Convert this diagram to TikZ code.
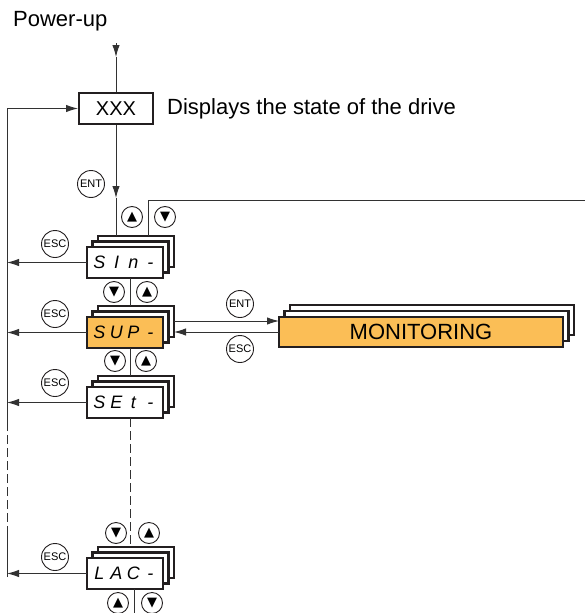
\documentclass[tikz,border=0pt]{standalone}
\usepackage{fontspec}
\setmainfont{Liberation Sans}
\newfontfamily\dvs{DejaVu Sans}
\usetikzlibrary{arrows.meta}
\definecolor{orng}{RGB}{251,190,86}
\definecolor{ink}{RGB}{35,31,32}
\definecolor{wirec}{RGB}{50,50,50}
\newcommand\sg[1]{\makebox[17pt]{#1}}
\newcommand\dispstack[5]{%
  \node[layer] (#1b) at (#2+11,#3-11) {};
  \node[layer] (#1m) at (#2+5.5,#3-5.5) {};
  \node[layer, fill=#4] (#1) at (#2,#3) {#5};
}
\begin{document}
\begin{tikzpicture}[x=1pt,y=-1pt,
  layer/.style={draw=ink, line width=2.2pt, fill=white, minimum width=76pt, minimum height=31pt,
    inner sep=0pt, outer sep=0pt, anchor=north west, font=\fontsize{18}{18}\selectfont\itshape},
  monlayer/.style={draw=ink, line width=2.2pt, fill=white, minimum width=284pt, minimum height=30pt,
    inner sep=0pt, outer sep=0pt, anchor=north west, font=\fontsize{22}{22}\selectfont},
  btn/.style={circle, draw=ink, line width=0.9pt, minimum size=27pt, inner sep=0pt,
    font=\fontsize{11}{11}\selectfont},
  abtn/.style={circle, draw=ink, line width=0.9pt, minimum size=21pt, inner sep=0pt,
    font=\dvs\fontsize{13}{13}\selectfont},
  wire/.style={draw=wirec, line width=1pt},
  arr/.style={wire, -{Latex[length=12pt,width=7.5pt]}}]
\useasboundingbox (0,0) rectangle (585,613);

% texts
\node[anchor=base west, font=\fontsize{22}{22}\selectfont, inner sep=0pt] (pu) at (13,27) {Power-up};
\node[draw=ink, line width=2pt, minimum width=74pt, minimum height=31pt, inner sep=0pt,
  font=\fontsize{20}{20}\selectfont] (xxx) at (116,108.5) {XXX};
\node[anchor=base west, font=\fontsize{22}{22}\selectfont, inner sep=0pt] (disp) at (167,114) {Displays the state of the drive};

% stacks
\dispstack{sin}{87}{247}{white}{\sg{S}\sg{I}\sg{n}\sg{-}}
\dispstack{sup}{87}{317}{orng}{\sg{S}\sg{U}\sg{P}\sg{-}}
\dispstack{set}{87}{387}{white}{\sg{S}\sg{E}\sg{t}\sg{-}}
\dispstack{lac}{87}{558}{white}{\sg{L}\sg{A}\sg{C}\sg{-}}

\node[monlayer] (monb) at (290,305) {};
\node[monlayer] (monm) at (284.5,311) {};
\node[monlayer, fill=orng] (mon) at (279,317) {MONITORING};

% buttons
\node[btn] (ent1) at (91,184) {ENT};
\node[abtn] (u1) at (132,217) {▲};
\node[abtn] (d1) at (165,217) {▼};
\node[btn] (esc1) at (55,244) {ESC};
\node[abtn] (d2) at (114,292) {▼};
\node[abtn] (u2) at (147,292) {▲};
\node[btn] (esc2) at (55,314) {ESC};
\node[btn] (ent2) at (240,304) {ENT};
\node[btn] (esc3) at (240,349) {ESC};
\node[abtn] (d3) at (115,361) {▼};
\node[abtn] (u3) at (146,361) {▲};
\node[btn] (esc4) at (55,383) {ESC};
\node[abtn] (d4) at (116,533) {▼};
\node[abtn] (u4) at (149,533) {▲};
\node[btn] (esc5) at (55,557) {ESC};
\node[abtn] (u5) at (118,603) {▲};
\node[abtn] (d5) at (152,603) {▼};

% coordinates
\coordinate (put) at (116,43);
\coordinate (pua) at (116,57);
\coordinate (xa) at (116,198);
\coordinate (cx) at (130,0);
\coordinate (rx) at (148,200);
\coordinate (re) at (585,200);
\coordinate (lx) at (7,0);
\coordinate (lb) at (7,577);
\coordinate (ld1) at (7,535);
\coordinate (ld2) at (7,423);
\coordinate (lt) at (7,108.5);
\coordinate (enty) at (0,321);
\coordinate (escy) at (0,332);
\coordinate (lbot) at (134,613);

% connectors
\draw[arr] (put) -- (pua);
\draw[wire] (pua) -- (xxx.north);
\draw[arr] (xxx.south) -- (xa);
\draw[wire] (xa) -- (sinb.north -| xa);
\draw[wire] (sinb.north -| rx) -- (rx) -- (re);
\draw[wire] (sin.south -| cx) -- (supb.north -| cx);
\draw[wire] (sup.south -| cx) -- (setb.north -| cx);
\draw[wire, dash pattern=on 9pt off 4pt] (set.south -| cx) -- (lacb.north -| cx);
\draw[wire] (lac.south -| lbot) -- (lbot);

\draw[arr] (sin.west) -- (sin.west -| lx);
\draw[arr] (sup.west) -- (sup.west -| lx);
\draw[arr] (set.west) -- (set.west -| lx);
\draw[arr] (lac.west) -- (lac.west -| lx);

\draw[wire] (lb) -- (ld1);
\draw[wire, dash pattern=on 9pt off 4pt] (ld1) -- (ld2);
\draw[arr] (ld2) -- (lt) -- (xxx.west);

\draw[arr] (supb.east |- enty) -- (mon.west |- enty);
\draw[arr] (mon.west |- escy) -- (supb.east |- escy);
\end{tikzpicture}
\end{document}
